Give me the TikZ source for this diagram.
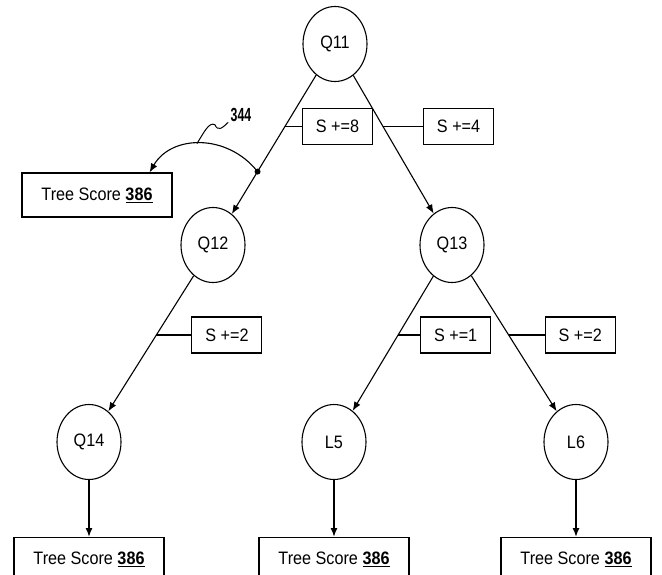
\documentclass[tikz,border=0pt]{standalone}
\usepackage{fontspec}
\setmainfont[FakeStretch=0.9]{Liberation Sans}
\usetikzlibrary{positioning,shapes.geometric,arrows.meta}

% underlined score value
\newcommand{\scoreval}[1]{\underline{\textbf{#1}}}

\begin{document}
\begin{tikzpicture}[
 x=1pt, y=-1pt,
 line width=1.1pt,
 >={Latex[length=9pt,width=7pt]},
 font=\fontsize{18}{21}\selectfont,
 qnode/.style={draw=black,ellipse,minimum width=64pt,minimum height=75pt,inner sep=0pt},
 delta/.style={draw=black,rectangle,minimum width=70pt,minimum height=36pt,inner sep=2pt},
 score/.style={draw=black,rectangle,minimum width=150pt,minimum height=44pt}
]
\useasboundingbox (0,0) rectangle (662,574);
\clip (0,0) rectangle (662,574);

% tree nodes
\node (q11) [qnode] at (335,44) {Q11};
\node (q12) [qnode] at (213,245) {Q12};
\node (q13) [qnode] at (452,245) {Q13};
\node (q14) [qnode] at (89,442) {Q14};
\node (l5) [qnode] at (334,442) {L5};
\node (l6) [qnode] at (576,442) {L6};

% branches
\draw[->] (q11) -- coordinate[pos=0.37] (b8) coordinate[pos=0.695] (hit) (q12);
\draw[->] (q11) -- coordinate[pos=0.37] (b4) (q13);
\draw[->] (q12) -- coordinate[pos=0.437] (b2) (q14);
\draw[->] (q13) -- coordinate[pos=0.437] (b1) (l5);
\draw[->] (q13) -- coordinate[pos=0.437] (b2r) (l6);

% score increments
\node (d8) [delta, right=17pt of b8] {S +=8};
\node (d4) [delta, right=40pt of b4] {S +=4};
\node (d2) [delta, right=35pt of b2] {S +=2};
\node (d1) [delta, right=22pt of b1] {S +=1};
\node (d2r) [delta, right=36pt of b2r] {S +=2};
\draw (b8) -- (d8);
\draw (b4) -- (d4);
\draw (b2) -- (d2);
\draw (b1) -- (d1);
\draw (b2r) -- (d2r);

% tree scores
\node (ts) [score] at (97,195) {Tree Score \scoreval{386}};
\node (ts14) [score, below=57pt of q14] {Tree Score \scoreval{386}};
\node (ts5) [score, below=57pt of l5] {Tree Score \scoreval{386}};
\node (ts6) [score, below=57pt of l6] {Tree Score \scoreval{386}};
\draw[->,line width=1.6pt] (q14) -- (ts14);
\draw[->,line width=1.6pt] (l5) -- (ts5);
\draw[->,line width=1.6pt] (l6) -- (ts6);

% early exit with reference numeral
\fill (hit) circle (3pt);
\draw[->] (hit) .. controls +(-30,-38) and +(22,-38) .. ([xshift=-23pt]ts.north east)
  coordinate[pos=0.53] (tick);
\node (n344) [inner sep=0pt] at (241,115)
  {\fontsize{19}{21}\selectfont\bfseries\scalebox{0.72}[1]{344}};
\draw[line width=1pt] (tick) .. controls +(7,-11) and +(-6,-3) .. ++(18,-19)
  .. controls +(3,7) and +(-6,6) .. ([xshift=-2pt]n344.south west);
\end{tikzpicture}
\end{document}
